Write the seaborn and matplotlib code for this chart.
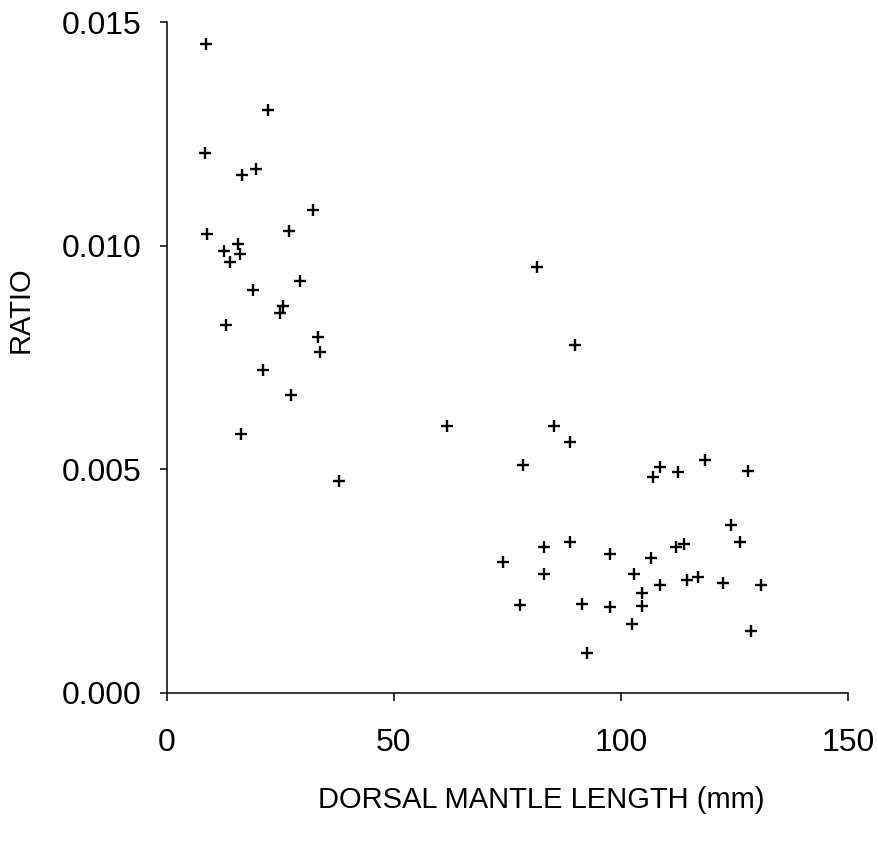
import matplotlib
matplotlib.use("Agg")
import matplotlib.pyplot as plt
import seaborn as sns
import pandas as pd

length_mm = [8.6, 8.4, 8.8, 22.2, 16.5, 19.6, 32.2, 26.9, 12.6, 13.9, 15.6, 16.1,
             29.3, 18.9, 25.6, 24.9, 13.0, 33.3, 33.7, 21.1, 27.3, 16.3, 37.9,
             61.7, 81.5, 89.9, 85.2, 88.8, 78.4, 74.0, 77.8, 83.0, 83.0, 88.8,
             91.4, 92.5, 97.6, 97.6, 102.4, 102.9, 104.6, 104.6, 106.6, 107.0,
             108.6, 108.6, 112.6, 112.1, 113.9, 114.5, 116.9, 118.5, 122.5,
             124.2, 126.2, 128.0, 128.6, 130.8]
ratio = [0.01451, 0.01207, 0.01026, 0.01303, 0.01158, 0.01171, 0.01080, 0.01033,
         0.00988, 0.00964, 0.01004, 0.00981, 0.00921, 0.00901, 0.00865, 0.00850,
         0.00823, 0.00796, 0.00762, 0.00722, 0.00666, 0.00579, 0.00474,
         0.00597, 0.00952, 0.00778, 0.00597, 0.00561, 0.00510, 0.00293,
         0.00197, 0.00326, 0.00266, 0.00338, 0.00199, 0.00089, 0.00311,
         0.00192, 0.00154, 0.00266, 0.00224, 0.00195, 0.00302, 0.00483,
         0.00505, 0.00241, 0.00494, 0.00326, 0.00333, 0.00253, 0.00259,
         0.00521, 0.00246, 0.00376, 0.00338, 0.00496, 0.00139, 0.00241]

x_ticks = [0, 50, 100, 150]
y_ticks = [0.0, 0.005, 0.010, 0.015]
y_tick_labels = ["0.000", "0.005", "0.010", "0.015"]

df = pd.DataFrame({"DORSAL MANTLE LENGTH (mm)": length_mm, "RATIO": ratio})

sns.set_theme(style="white")
plt.rcParams["font.family"] = ["Liberation Sans", "DejaVu Sans"]

fig = plt.figure(figsize=(8.79, 8.50), dpi=100)
ax = fig.add_axes([167 / 879, 1 - 693 / 850, 681 / 879, 671 / 850])

sns.scatterplot(data=df, x="DORSAL MANTLE LENGTH (mm)", y="RATIO", marker="+",
                s=70, linewidth=1.7, color="black", ax=ax)

ax.set_xlim(0, 150)
ax.set_ylim(0, 0.015)
ax.set_xticks(x_ticks)
ax.set_xticklabels([str(v) for v in x_ticks])
ax.set_yticks(y_ticks)
ax.set_yticklabels(y_tick_labels)

for side in ["top", "right"]:
    ax.spines[side].set_visible(False)
for side in ["left", "bottom"]:
    ax.spines[side].set_color("black")
    ax.spines[side].set_linewidth(1.1)

ax.tick_params(axis="x", direction="out", length=6, width=1.1, color="black",
               labelcolor="black", labelsize=23, pad=19, bottom=True)
ax.tick_params(axis="y", direction="out", length=5, width=1.1, color="black",
               labelcolor="black", labelsize=23, pad=13, left=True)

ax.set_xlabel("DORSAL MANTLE LENGTH (mm)", fontsize=21, color="black")
ax.set_ylabel("RATIO", fontsize=21, color="black")
ax.xaxis.set_label_coords((541 - 167) / 681, (693 - 800) / 671)
ax.yaxis.set_label_coords((21 - 167) / 681, (693 - 310) / 671)
ax.xaxis.label.set_verticalalignment("center")
ax.yaxis.label.set_verticalalignment("center")

fig.savefig("out.png", dpi=100, facecolor="white")
